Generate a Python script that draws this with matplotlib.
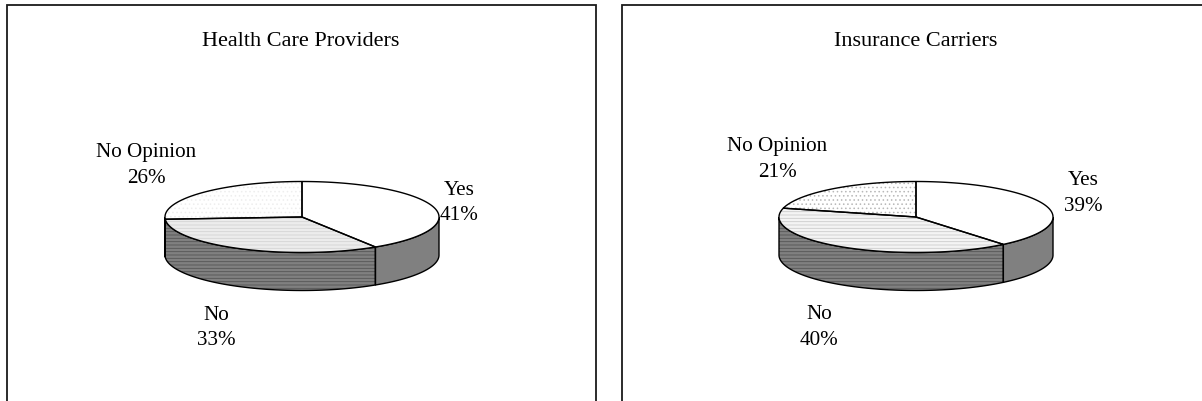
import numpy as np
import matplotlib
matplotlib.use("Agg")
import matplotlib.pyplot as plt
from matplotlib.patches import Polygon

plt.rcParams['font.family'] = ['Liberation Serif', 'DejaVu Serif']
plt.rcParams['hatch.linewidth'] = 0.6

titles = ["Health Care Providers", "Insurance Carriers"]
categories = ["Yes", "No", "No Opinion"]
left_values = [41, 33, 26]
right_values = [39, 40, 21]

W, H = 1202, 402
fig = plt.figure(figsize=(W/100, H/100), dpi=100)
ax = fig.add_axes([0, 0, 1, 1])
ax.set_xlim(0, W)
ax.set_ylim(H, 0)
ax.axis('off')

RX, RY, DEPTH = 137, 35.5, 38
LEFT_TOP = [
    dict(facecolor='white'),
    dict(facecolor='#ececec', hatch='-----', edgecolor='#d4d4d4'),
    dict(facecolor='white', hatch='....', edgecolor='#eeeeee'),
]
RIGHT_TOP = [
    dict(facecolor='white'),
    dict(facecolor='#f4f4f4', hatch='-----', edgecolor='#cccccc'),
    dict(facecolor='white', hatch='....', edgecolor='#b8b8b8'),
]
SIDE = [
    dict(facecolor='#808080'),
    dict(facecolor='#808080', hatch='-----', edgecolor='#555555'),
    dict(facecolor='#808080'),
]


def point(cx, cy, theta):
    return cx + RX*np.sin(theta), cy - RY*np.cos(theta)


def draw_pie(cx, cy, values, top_style):
    edges = np.r_[0, np.cumsum(values)] / np.sum(values) * 2*np.pi
    for i in range(len(values)):
        a, b = edges[i], edges[i+1]
        lo, hi = max(a, np.pi/2), min(b, 3*np.pi/2)
        if hi > lo:
            t = np.linspace(lo, hi, 100)
            x, y = point(cx, cy, t)
            xy = np.r_[np.c_[x, y], np.c_[x, y + DEPTH][::-1]]
            ax.add_patch(Polygon(xy, closed=True, lw=0, zorder=1, **SIDE[i]))
            ax.add_patch(Polygon(xy, closed=True, fill=False, edgecolor='black', lw=1.0, zorder=2))
        t = np.linspace(a, b, 200)
        x, y = point(cx, cy, t)
        xy = np.r_[[[cx, cy]], np.c_[x, y]]
        ax.add_patch(Polygon(xy, closed=True, lw=0, zorder=3, **top_style[i]))
        ax.add_patch(Polygon(xy, closed=True, fill=False, edgecolor='black', lw=1.0, zorder=4))


def draw_labels(label_pos, values):
    for (x, y), c, v in zip(label_pos, categories, values):
        ax.text(x, y, f"{c}\n{v}%", ha='center', va='center', fontsize=15.2,
                linespacing=1.48, color='black', zorder=5)


# panel frames: left panel open at the bottom, right panel runs off the image
ax.plot([7, 7, 596, 596], [H, 5.5, 5.5, H], color='#1a1a1a', lw=1.3, zorder=0,
        solid_joinstyle='miter')
ax.plot([622, 622, W], [H, 5.5, 5.5], color='#1a1a1a', lw=1.3, zorder=0,
        solid_joinstyle='miter')

draw_pie(302, 218, left_values, LEFT_TOP)
draw_pie(916, 218, right_values, RIGHT_TOP)
ax.text(301, 42, titles[0], ha='center', va='center', fontsize=16)
ax.text(915.5, 42, titles[1], ha='center', va='center', fontsize=16)
draw_labels([(459, 203), (216, 328), (146, 165.5)], left_values)
draw_labels([(1083, 193.5), (819.5, 327.5), (777.5, 159.5)], right_values)

fig.savefig("out.png", dpi=100)
